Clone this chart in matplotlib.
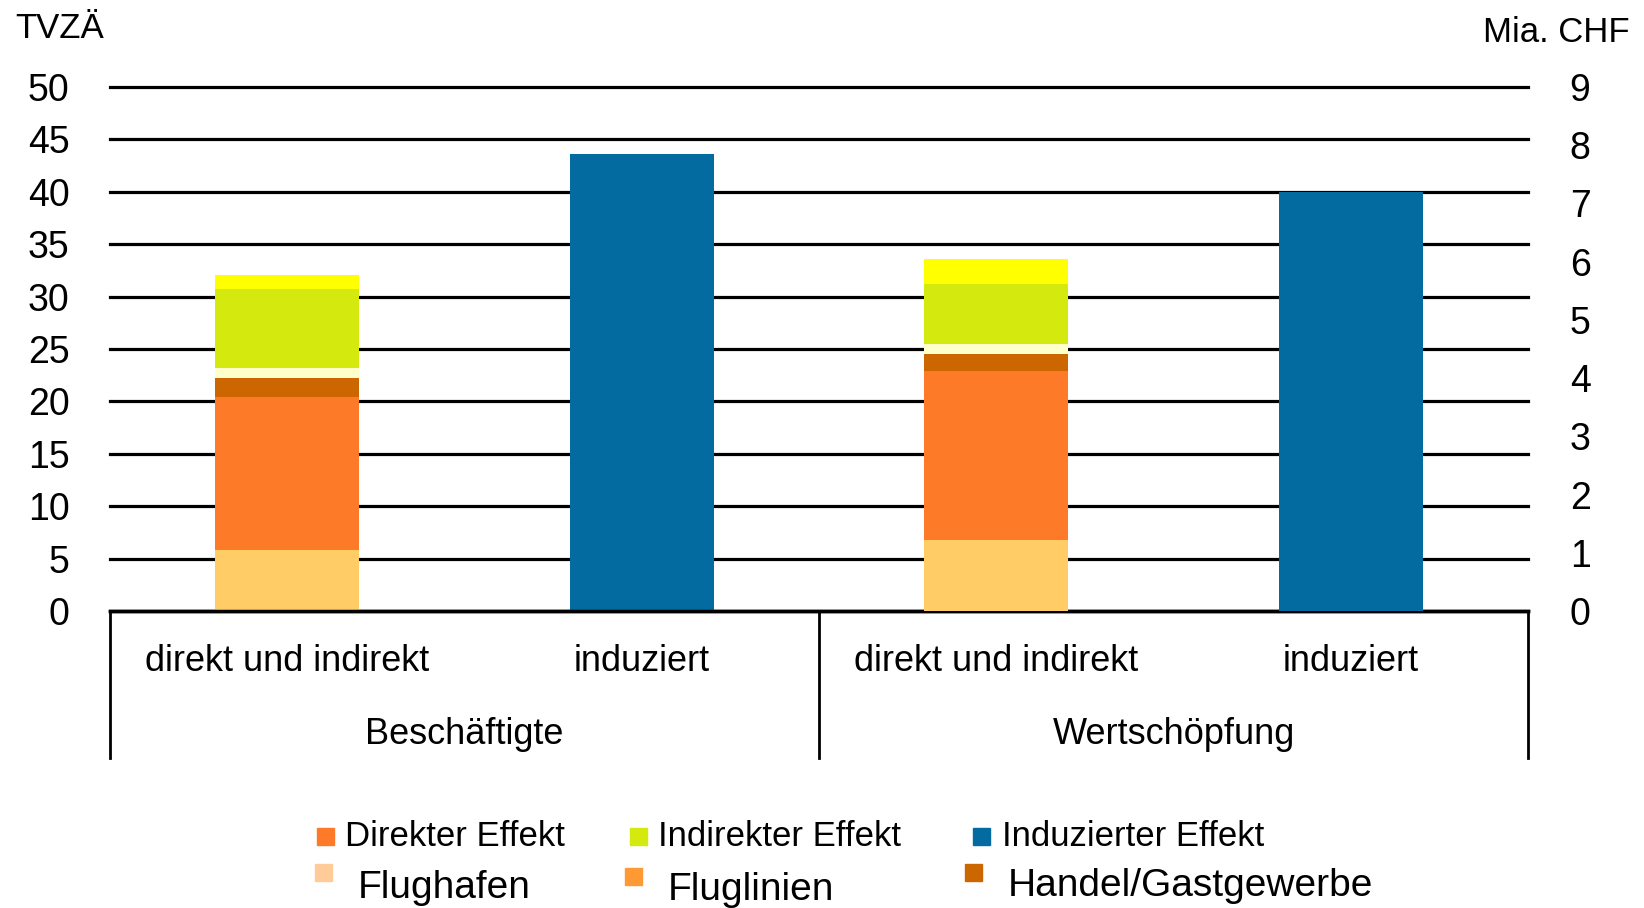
import numpy as np
import matplotlib
matplotlib.use("Agg")
import matplotlib.pyplot as plt
from matplotlib.patches import Rectangle

plt.rcParams['font.family'] = ['Liberation Sans', 'DejaVu Sans']
NARROW = ['Liberation Sans Narrow', 'Liberation Sans', 'DejaVu Sans']

# data
categories = ["direkt und indirekt", "induziert", "direkt und indirekt", "induziert"]
groups = ["Beschäftigte", "Wertschöpfung"]
# Beschäftigte (TVZÄ, in 1000)
besch_stack = [5.8, 14.6, 1.85, 0.95, 7.5, 1.35]
besch_induced = 43.6
# Wertschöpfung (Mia. CHF)
wert_stack = [1.22, 2.90, 0.30, 0.17, 1.03, 0.43]
wert_induced = 7.2
left_ticks = [0, 5, 10, 15, 20, 25, 30, 35, 40, 45, 50]
right_ticks = [0, 1, 2, 3, 4, 5, 6, 7, 8, 9]

stack_colors = ["#FFCC66", "#FC7A28", "#CC6600", "#FFFFCC", "#D4EA0F", "#FFFF00"]
blue = "#046BA1"

fig = plt.figure(figsize=(16.44, 9.08), dpi=100)
ax = fig.add_axes([110 / 1644, 1 - 611 / 908, 1418 / 1644, 524 / 908])
ax2 = ax.twinx()

w = 0.405
x = np.arange(4)

# left axis: Beschäftigte
bottom = 0
for v, c in zip(besch_stack, stack_colors):
    ax.bar(x[0], v, w, bottom=bottom, color=c, zorder=3)
    bottom += v
ax.bar(x[1], besch_induced, w, color=blue, zorder=3)

# right axis: Wertschöpfung
bottom = 0
for v, c in zip(wert_stack, stack_colors):
    ax2.bar(x[2], v, w, bottom=bottom, color=c, zorder=3)
    bottom += v
ax2.bar(x[3], wert_induced, w, color=blue, zorder=3)

ax.set_xlim(-0.5, 3.5)
ax.set_ylim(0, 50)
ax2.set_ylim(0, 9)
ax.set_yticks(left_ticks)
ax2.set_yticks(right_ticks)
ax.tick_params(axis='y', length=0, labelsize=27, pad=29)
ax2.tick_params(axis='y', length=0, labelsize=27, pad=30)
ax.set_xticks([])

for t in left_ticks[1:]:
    ax.axhline(t, color='black', lw=2.3, zorder=1, clip_on=False)

for a in (ax, ax2):
    for s in ['top', 'left', 'right']:
        a.spines[s].set_visible(False)
    a.spines['bottom'].set_linewidth(2.5)
    a.spines['bottom'].set_color('black')

# category and group labels below the axis
for i, lab in enumerate(categories):
    ax.text(x[i], -0.097, lab, transform=ax.get_xaxis_transform(), ha='center', va='center',
            fontsize=26, family=NARROW)
for j, g in enumerate(groups):
    ax.text(0.5 + 2 * j, -0.235, g, transform=ax.get_xaxis_transform(), ha='center', va='center',
            fontsize=26, family=NARROW)
for xv in (0, 0.5, 1):
    ax.plot([xv, xv], [0, -0.28], transform=ax.transAxes, color='black', lw=2, clip_on=False)

# axis units
fig.text(15 / 1644, 1 - 28 / 908, "TVZÄ", fontsize=25, family=NARROW, ha='left', va='center')
fig.text(1630 / 1644, 1 - 32 / 908, "Mia. CHF", fontsize=25, family=NARROW, ha='right', va='center')

# legend
legend_items = [
    (317, 836, "#FC7A28", 345, 836, 25, "Direkter Effekt"),
    (630, 836, "#D4EA0F", 658, 836, 25, "Indirekter Effekt"),
    (973, 836, "#046BA1", 1002, 836, 25, "Induzierter Effekt"),
    (315, 872, "#FFCC99", 358, 888, 28, "Flughafen"),
    (625, 876, "#FF9933", 668, 890, 28, "Fluglinien"),
    (965, 872, "#CC6600", 1008, 886, 28, "Handel/Gastgewerbe"),
]
s = 17
for px, py, c, tx, ty, fs, lab in legend_items:
    fig.add_artist(Rectangle((px / 1644, 1 - (py + s / 2) / 908), s / 1644, s / 908,
                             color=c, transform=fig.transFigure))
    fig.text(tx / 1644, 1 - ty / 908, lab, fontsize=fs, family=NARROW, ha='left', va='center')

fig.savefig("out.png", dpi=100)
